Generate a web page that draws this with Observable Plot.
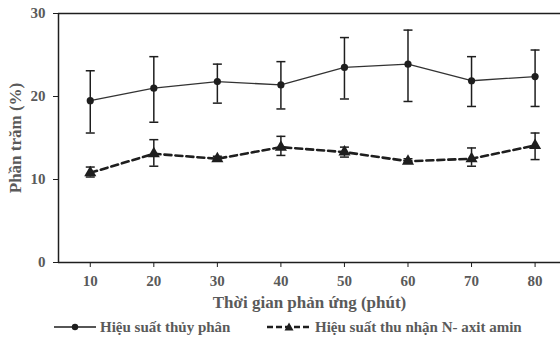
<!DOCTYPE html>
<html><head><meta charset="utf-8">
<script src="https://cdn.jsdelivr.net/npm/d3@7"></script>
<script src="https://cdn.jsdelivr.net/npm/@observablehq/plot@0.6"></script>
<style>
body{margin:0;background:#fff;}
#wrap{width:560px;height:343px;position:relative;overflow:hidden;font-family:'Liberation Serif',serif;font-weight:bold;color:#5a5a5a;}
#legend{position:absolute;left:0;top:314px;width:560px;height:28px;font-size:15px;}
.item{position:absolute;top:0;display:flex;align-items:center;height:26px;}
.item svg{margin-right:4px;}
</style></head>
<body><div id="wrap"><div id="chart"></div><div id="legend"></div></div>
<script>
const times = [10, 20, 30, 40, 50, 60, 70, 80];
const hydrolysis = [19.5, 21.0, 21.8, 21.4, 23.5, 23.9, 21.9, 22.4];
const hydrolysisLow = [15.6, 16.9, 19.2, 18.5, 19.7, 19.4, 18.8, 18.8];
const hydrolysisHigh = [23.1, 24.8, 23.9, 24.2, 27.1, 28.0, 24.8, 25.6];
const amino = [10.8, 13.1, 12.5, 13.9, 13.3, 12.2, 12.5, 14.1];
const aminoLow = [10.3, 11.6, 12.2, 12.9, 12.7, 12.0, 11.6, 12.4];
const aminoHigh = [11.5, 14.8, 12.8, 15.2, 13.9, 12.5, 13.8, 15.6];
const yTicks = [0, 10, 20, 30];
const seriesNames = ["Hiệu suất thủy phân", "Hiệu suất thu nhận N- axit amin"];

const s1 = times.map((t, i) => ({t, v: hydrolysis[i], lo: hydrolysisLow[i], hi: hydrolysisHigh[i]}));
const s2 = times.map((t, i) => ({t, v: amino[i], lo: aminoLow[i], hi: aminoHigh[i]}));
const caps = [...s1, ...s2].flatMap(d => [{t: d.t, y: d.lo}, {t: d.t, y: d.hi}]);
const capSymbol = {draw(ctx) { ctx.moveTo(-4.5, 0); ctx.lineTo(4.5, 0); }};
const ink = "#1e1e1e";
const grey = "#5a5a5a";

const chart = Plot.plot({
  width: 560, height: 314,
  marginLeft: 58, marginRight: 0, marginTop: 13, marginBottom: 52,
  style: {fontFamily: "'Liberation Serif', serif", fontSize: "15px", fontWeight: "bold", background: "white", color: grey, overflow: "visible"},
  x: {domain: [5, 84]},
  y: {domain: [0, 30]},
  marks: [
    Plot.axisX({ticks: times, tickSize: 5, tickPadding: 8, stroke: ink, fill: grey, label: null}),
    Plot.axisX({ticks: [], label: "Thời gian phản ứng (phút)", labelAnchor: "center", labelArrow: "none", labelOffset: 45, fontSize: 17, fill: grey}),
    Plot.axisY({ticks: yTicks, tickSize: 5, tickPadding: 8, stroke: ink, fill: grey, label: null}),
    Plot.axisY({ticks: [], label: "Phần trăm (%)", labelAnchor: "center", labelArrow: "none", labelOffset: 50, fontSize: 17, fill: grey}),
    Plot.ruleY([0, 30], {stroke: ink, strokeWidth: 1.5}),
    Plot.ruleX([5], {stroke: ink, strokeWidth: 1.5}),
    Plot.ruleX([...s1, ...s2], {x: "t", y1: "lo", y2: "hi", stroke: ink, strokeWidth: 1.5}),
    Plot.dot(caps, {x: "t", y: "y", symbol: capSymbol, stroke: ink, strokeWidth: 1.5, fill: "none"}),
    Plot.line(s1, {x: "t", y: "v", stroke: "#333", strokeWidth: 1.3}),
    Plot.line(s2, {x: "t", y: "v", stroke: ink, strokeWidth: 2.6, strokeDasharray: "7,4"}),
    Plot.dot(s1, {x: "t", y: "v", r: 3.6, fill: ink, stroke: "none"}),
    Plot.dot(s2, {x: "t", y: "v", symbol: "triangle", r: 4.5, fill: ink, stroke: "none"})
  ]
});
document.getElementById("chart").appendChild(chart);

const legend = document.getElementById("legend");
legend.innerHTML = `
<div class="item" style="left:54px"><svg width="42" height="12"><line x1="0" y1="6" x2="42" y2="6" stroke="${ink}" stroke-width="1.3"/><circle cx="21" cy="6" r="3.2" fill="${ink}"/></svg><span>${seriesNames[0]}</span></div>
<div class="item" style="left:267px"><svg width="44" height="12"><line x1="0" y1="6" x2="44" y2="6" stroke="${ink}" stroke-width="2.4" stroke-dasharray="6,3"/><path d="M22,1.5 L26.5,9.5 L17.5,9.5 Z" fill="${ink}"/></svg><span>${seriesNames[1]}</span></div>`;
</script>
</body></html>
